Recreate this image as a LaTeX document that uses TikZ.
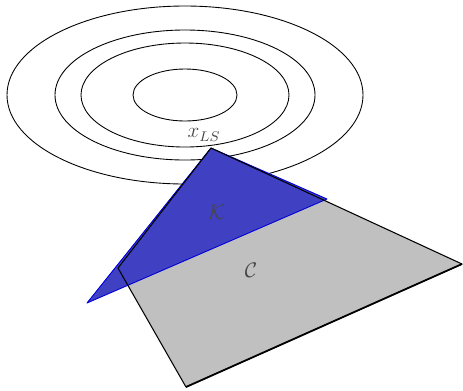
\documentclass[tikz,border=0pt]{standalone}
\usepackage{amsmath,amssymb}
\usetikzlibrary{positioning}
\definecolor{feasgrey}{RGB}{192,192,192}
\definecolor{kblue}{RGB}{64,64,194}
\tikzset{
  levelset/.style={draw=black,line width=.5pt},
  coneface/.style={fill=feasgrey,draw=none},
  coneedge/.style={draw=black,line width=.6pt,line join=round},
  kset/.style={fill=kblue,draw=blue!85!black,line width=.5pt,line join=round},
  setlbl/.style={text=black!72,font=\large,inner sep=1pt},
  biglbl/.style={setlbl,font=\fontsize{13}{15}\selectfont},
}
\begin{document}
\begin{tikzpicture}[x=0.02cm,y=-0.02cm]
  \useasboundingbox (0,0) rectangle (463,390);
  % level sets of the objective
  \coordinate (ctr) at (185,95);
  \foreach \r in {26,52,65,89}{
    \draw[levelset] (ctr) ellipse [x radius=2*\r, y radius=\r];}
  % the set C
  \coordinate (c1) at (211,148);
  \coordinate (c2) at (118,268);
  \coordinate (c3) at (186,387);
  \coordinate (c4) at (462,264);
  % the set K
  \coordinate (k1) at (211,148);
  \coordinate (k2) at (327,199);
  \coordinate (k3) at (87,303);
  \fill[coneface] (c1) -- (c2) -- (c3) -- (c4) -- cycle;
  \filldraw[kset] (k1) -- (k2) -- (k3) -- cycle;
  \draw[coneedge] (c1) -- (c2) -- (c3) -- (c4) -- cycle;
  \draw[coneedge,line width=1pt] (c3) -- (c4);
  \node[setlbl] (xls) at (204,135) {$x_{LS}$};
  \node[biglbl] (klbl) at (217,212) {$\mathcal{K}$};
  \node[biglbl] (clbl) at (251,270) {$\mathcal{C}$};
\end{tikzpicture}
\end{document}
